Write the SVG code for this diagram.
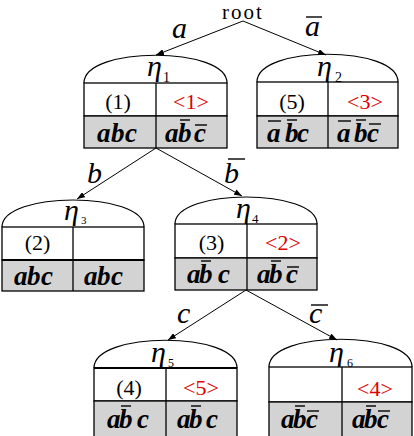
<svg xmlns="http://www.w3.org/2000/svg" width="414" height="436" viewBox="0 0 414 436">
<defs>
<style>
.arc{fill:none;stroke:#000;stroke-width:1.2}
.w{fill:#fff;stroke:#000;stroke-width:1.3}
.g{fill:#d3d3d3;stroke:#000;stroke-width:1.3}
.d{stroke:#000;stroke-width:1.3}
.bar{stroke:#000;stroke-width:1.4}
.eta{font-family:"Liberation Serif",serif;font-style:italic;font-size:30px}
.sub{font-family:"Liberation Serif",serif}
.num{font-family:"Liberation Serif",serif;font-size:22px;text-anchor:middle}
.red{fill:#e00000}
.var{font-family:"Liberation Serif",serif;font-style:italic;font-weight:bold;font-size:27px}
.lbl{font-family:"Liberation Serif",serif;font-style:italic;font-size:30px}
.edge{stroke:#000;stroke-width:1;fill:none;marker-end:url(#ah)}
</style>
<marker id="ah" markerUnits="userSpaceOnUse" markerWidth="8" markerHeight="6" refX="8" refY="3" orient="auto">
<path d="M0,0 L8,3 L0,6 z" fill="#000"/>
</marker>
</defs>
<rect width="414" height="436" fill="#fff"/>
<text x="243" y="19" text-anchor="middle" style="font-family:'Liberation Serif',serif;font-size:21px;letter-spacing:2px">root</text>

<g id="connectors">
<line class="edge" x1="243" y1="21" x2="156" y2="55"/>
<line class="edge" x1="243" y1="21" x2="326" y2="55"/>
<line class="edge" x1="156" y1="148" x2="77" y2="199"/>
<line class="edge" x1="156" y1="148" x2="242" y2="196"/>
<line class="edge" x1="246" y1="290" x2="168" y2="340"/>
<line class="edge" x1="246" y1="290" x2="337" y2="340"/>
<text class="lbl" x="172" y="38">a</text>
<text class="lbl" x="305" y="36">a</text><line class="bar" x1="306" y1="17" x2="322" y2="17"/>
<text class="lbl" x="87" y="183">b</text>
<text class="lbl" x="224" y="183">b</text><line class="bar" x1="228" y1="159" x2="245" y2="159"/>
<text class="lbl" x="177" y="323">c</text>
<text class="lbl" x="309" y="323">c</text><line class="bar" x1="311" y1="305" x2="328" y2="305"/>
</g>

<g id="eta1">
<path class="arc" d="M84,83 C84,46 227,46 227,83"/>
<text class="eta" x="147" y="76">η</text><text class="sub" x="163" y="82" font-size="14">1</text>
<rect class="w" x="84" y="83" width="143" height="33"/>
<rect class="g" x="84" y="116" width="143" height="32"/>
<line class="d" x1="156" y1="83" x2="156" y2="148"/>
<text class="num" x="118" y="109">(1)</text>
<text class="num red" x="191" y="109">&lt;1&gt;</text>
<text class="var" x="97 111 125" y="142">abc</text>
<text class="var" x="165 178 194" y="142">abc</text>
<line class="bar" x1="180" y1="120" x2="190" y2="120"/><line class="bar" x1="195" y1="125" x2="207" y2="125"/>
</g>

<g id="eta2">
<path class="arc" d="M257,82 C257,45 398,45 398,82"/>
<text class="eta" x="317" y="76">η</text><text class="sub" x="335" y="82" font-size="14">2</text>
<rect class="w" x="257" y="82" width="141" height="34"/>
<rect class="g" x="257" y="116" width="141" height="32"/>
<line class="d" x1="328" y1="82" x2="328" y2="148"/>
<text class="num" x="292" y="109">(5)</text>
<text class="num red" x="365" y="109">&lt;3&gt;</text>
<text class="var" x="267 285 297" y="142">abc</text>
<line class="bar" x1="268" y1="121" x2="281" y2="121"/><line class="bar" x1="287" y1="120" x2="297" y2="120"/>
<text class="var" x="337 354 367" y="142">abc</text>
<line class="bar" x1="338" y1="121" x2="351" y2="121"/><line class="bar" x1="356" y1="120" x2="366" y2="120"/><line class="bar" x1="369" y1="124" x2="381" y2="124"/>
</g>

<g id="eta3">
<path class="arc" d="M2,227 C2,191 144,191 144,227"/>
<text class="eta" x="64" y="220">η</text><text class="sub" x="81" y="224" font-size="11">3</text>
<rect class="w" x="2" y="227" width="142" height="33"/>
<rect class="g" x="2" y="260" width="142" height="31"/>
<line class="d" x1="2" y1="260" x2="144" y2="260" style="stroke-width:2"/>
<line class="d" x1="73" y1="227" x2="73" y2="291"/>
<text class="num" x="37.5" y="250">(2)</text>
<text class="var" x="14 27 41" y="285">abc</text>
<text class="var" x="84 97 111" y="285">abc</text>
</g>

<g id="eta4">
<path class="arc" d="M175,224 C175,188 317,188 317,224"/>
<text class="eta" x="236" y="218">η</text><text class="sub" x="252" y="223" font-size="13">4</text>
<rect class="w" x="175" y="224" width="142" height="34"/>
<rect class="g" x="175" y="258" width="142" height="32"/>
<line class="d" x1="247" y1="224" x2="247" y2="290"/>
<text class="num" x="211.5" y="250">(3)</text>
<text class="num red" x="283" y="250">&lt;2&gt;</text>
<text class="var" x="187 199 218" y="283">abc</text>
<line class="bar" x1="201" y1="261" x2="211" y2="261"/>
<text class="var" x="257 269 286" y="283">abc</text>
<line class="bar" x1="271" y1="261" x2="281" y2="261"/><line class="bar" x1="287" y1="267" x2="299" y2="267"/>
</g>

<g id="eta5">
<path class="arc" d="M94,368 C94,331 237,331 237,368"/>
<text class="eta" x="151" y="362">η</text><text class="sub" x="168" y="367" font-size="12">5</text>
<rect class="w" x="94" y="368" width="143" height="33"/>
<rect class="g" x="94" y="401" width="143" height="40"/>
<line class="d" x1="94" y1="368" x2="237" y2="368" style="stroke-width:2"/>
<line class="d" x1="166" y1="368" x2="166" y2="441"/>
<text class="num" x="129" y="395">(4)</text>
<text class="num red" x="201" y="395">&lt;5&gt;</text>
<text class="var" x="107 119 137" y="428">abc</text>
<line class="bar" x1="121" y1="406" x2="131" y2="406"/>
<text class="var" x="177 189 206" y="428">abc</text>
<line class="bar" x1="191" y1="406" x2="201" y2="406"/>
</g>

<g id="eta6">
<path class="arc" d="M269,367 C269,330 412,330 412,367"/>
<text class="eta" x="329" y="362">η</text><text class="sub" x="347" y="367" font-size="12">6</text>
<rect class="w" x="269" y="367" width="143" height="35"/>
<rect class="g" x="269" y="402" width="143" height="39"/>
<line class="d" x1="342" y1="367" x2="342" y2="441"/>
<text class="num red" x="375" y="396">&lt;4&gt;</text>
<text class="var" x="281 293 306" y="428">abc</text>
<line class="bar" x1="295" y1="406" x2="305" y2="406"/><line class="bar" x1="307" y1="411" x2="319" y2="411"/>
<text class="var" x="352 364 377" y="428">abc</text>
<line class="bar" x1="366" y1="406" x2="376" y2="406"/><line class="bar" x1="378" y1="411" x2="390" y2="411"/>
</g>
</svg>
